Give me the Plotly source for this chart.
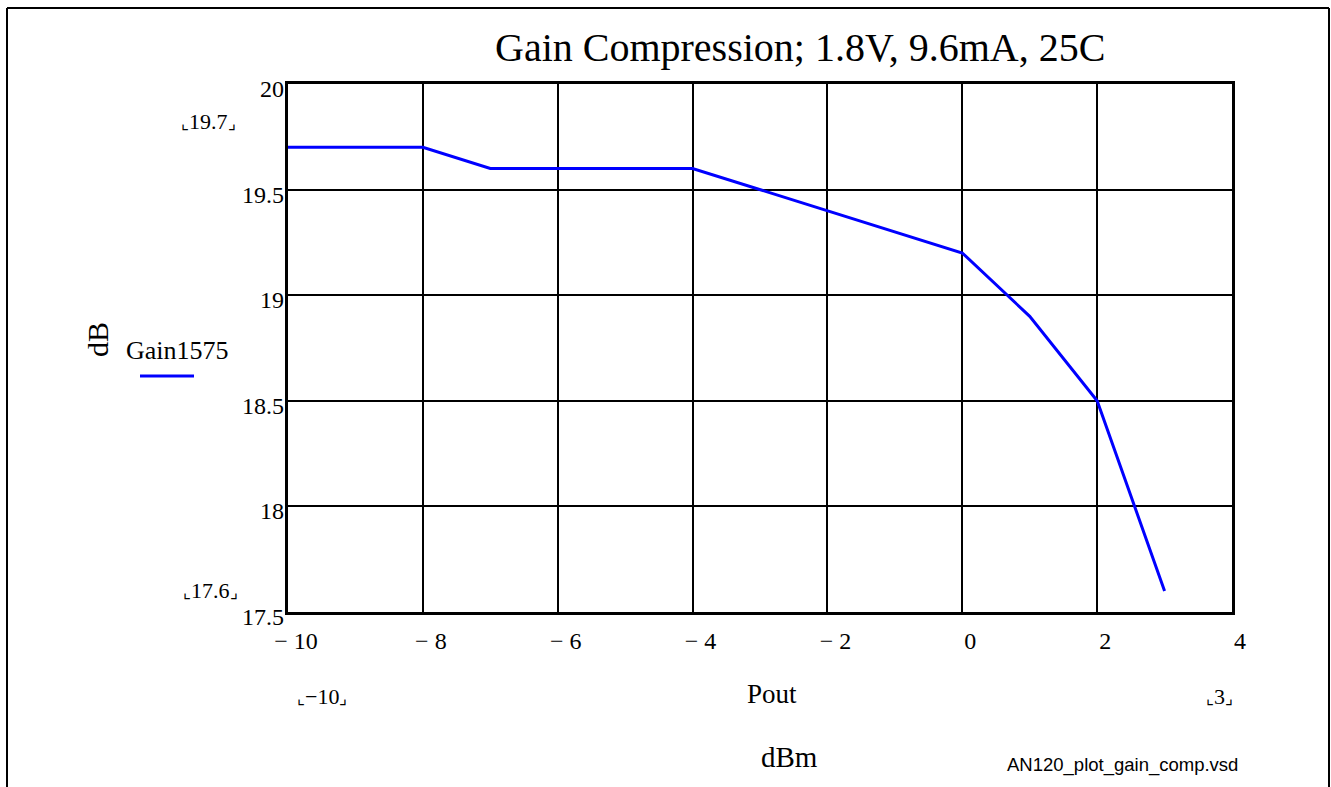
import plotly.graph_objects as go

# Data
pout_dbm = [-10, -8, -7, -4, 0, 1, 2, 3]
gain_db = [19.7, 19.7, 19.6, 19.6, 19.2, 18.9, 18.5, 17.6]

x_ticks = [-10, -8, -6, -4, -2, 0, 2, 4]
y_ticks = [17.5, 18, 18.5, 19, 19.5, 20]
x_ticktext = [("− %d" % abs(v)) if v < 0 else str(v) for v in x_ticks]
y_ticktext = [("%g" % v) for v in y_ticks]

title_text = "Gain Compression; 1.8V, 9.6mA, 25C"
series_name = "Gain1575"

W, H = 1331, 787
L, R, T, B = 288, 1232, 84, 612


def px(x):
    return (x - L) / (R - L)


def py(y):
    return (B - y) / (B - T)


serif = "Liberation Serif, Times New Roman, serif"

fig = go.Figure()
fig.add_trace(go.Scatter(x=pout_dbm, y=gain_db, mode="lines", name=series_name,
                         line=dict(color="#0000ff", width=3), showlegend=False))

axis_common = dict(showgrid=True, gridcolor="black", gridwidth=1.5,
                   showline=True, linecolor="black", linewidth=3, mirror=True,
                   zeroline=False, ticks="", tickfont=dict(family=serif, size=24, color="black"))

fig.update_xaxes(range=[-10, 4], tickmode="array", tickvals=x_ticks, ticktext=x_ticktext,
                 ticklabelstandoff=5, ticklabelshift=8, **axis_common)
fig.update_yaxes(range=[17.5, 20], tickmode="array", tickvals=y_ticks, ticktext=[""] * len(y_ticks),
                 showticklabels=False, **axis_common)

anns = []
# y tick labels (Mathcad style: slightly below their gridline)
for v, t in zip(y_ticks, y_ticktext):
    anns.append(dict(x=0, y=v, xref="paper", yref="y", text=t, showarrow=False,
                     xanchor="right", yanchor="middle", xshift=-2, yshift=-5,
                     font=dict(family=serif, size=24, color="black")))


def txt(x, y, text, size, family=serif, angle=0, xanchor="center"):
    anns.append(dict(x=px(x), y=py(y), xref="paper", yref="paper", text=text, showarrow=False,
                     font=dict(family=family, size=size, color="black"), textangle=angle,
                     xanchor=xanchor, yanchor="middle"))


br_l = "<span style='font-size:17px'>⌞</span>"
br_r = "<span style='font-size:17px'>⌟</span>"
txt(800, 47, title_text, 40)
txt(208, 121, br_l + "19.7" + br_r, 22)
txt(210, 590, br_l + "17.6" + br_r, 22)
txt(322, 696, br_l + "−10" + br_r, 22)
txt(1219, 696, br_l + "3" + br_r, 22)
txt(772, 694, "Pout", 27)
txt(789, 757, "dBm", 29)
txt(97, 340, "dB", 30, angle=-90)
txt(177, 351, series_name, 26)
txt(1122, 765, "AN120_plot_gain_comp.vsd", 18.5, family="Liberation Sans, Arial, sans-serif")

shapes = [
    dict(type="line", xref="paper", yref="paper", x0=px(140), x1=px(194), y0=py(376), y1=py(376),
         line=dict(color="#0000ff", width=3)),
    dict(type="line", xref="paper", yref="paper", x0=px(7), x1=px(7), y0=py(8), y1=py(800),
         line=dict(color="black", width=2)),
    dict(type="line", xref="paper", yref="paper", x0=px(7), x1=px(1329), y0=py(8), y1=py(8),
         line=dict(color="black", width=2)),
    dict(type="line", xref="paper", yref="paper", x0=px(1329), x1=px(1329), y0=py(8), y1=py(800),
         line=dict(color="black", width=2)),
]

fig.update_layout(width=W, height=H, margin=dict(l=L, r=W - R, t=T, b=H - B),
                  paper_bgcolor="white", plot_bgcolor="white",
                  annotations=anns, shapes=shapes, showlegend=False)

fig.write_html("out.html")
